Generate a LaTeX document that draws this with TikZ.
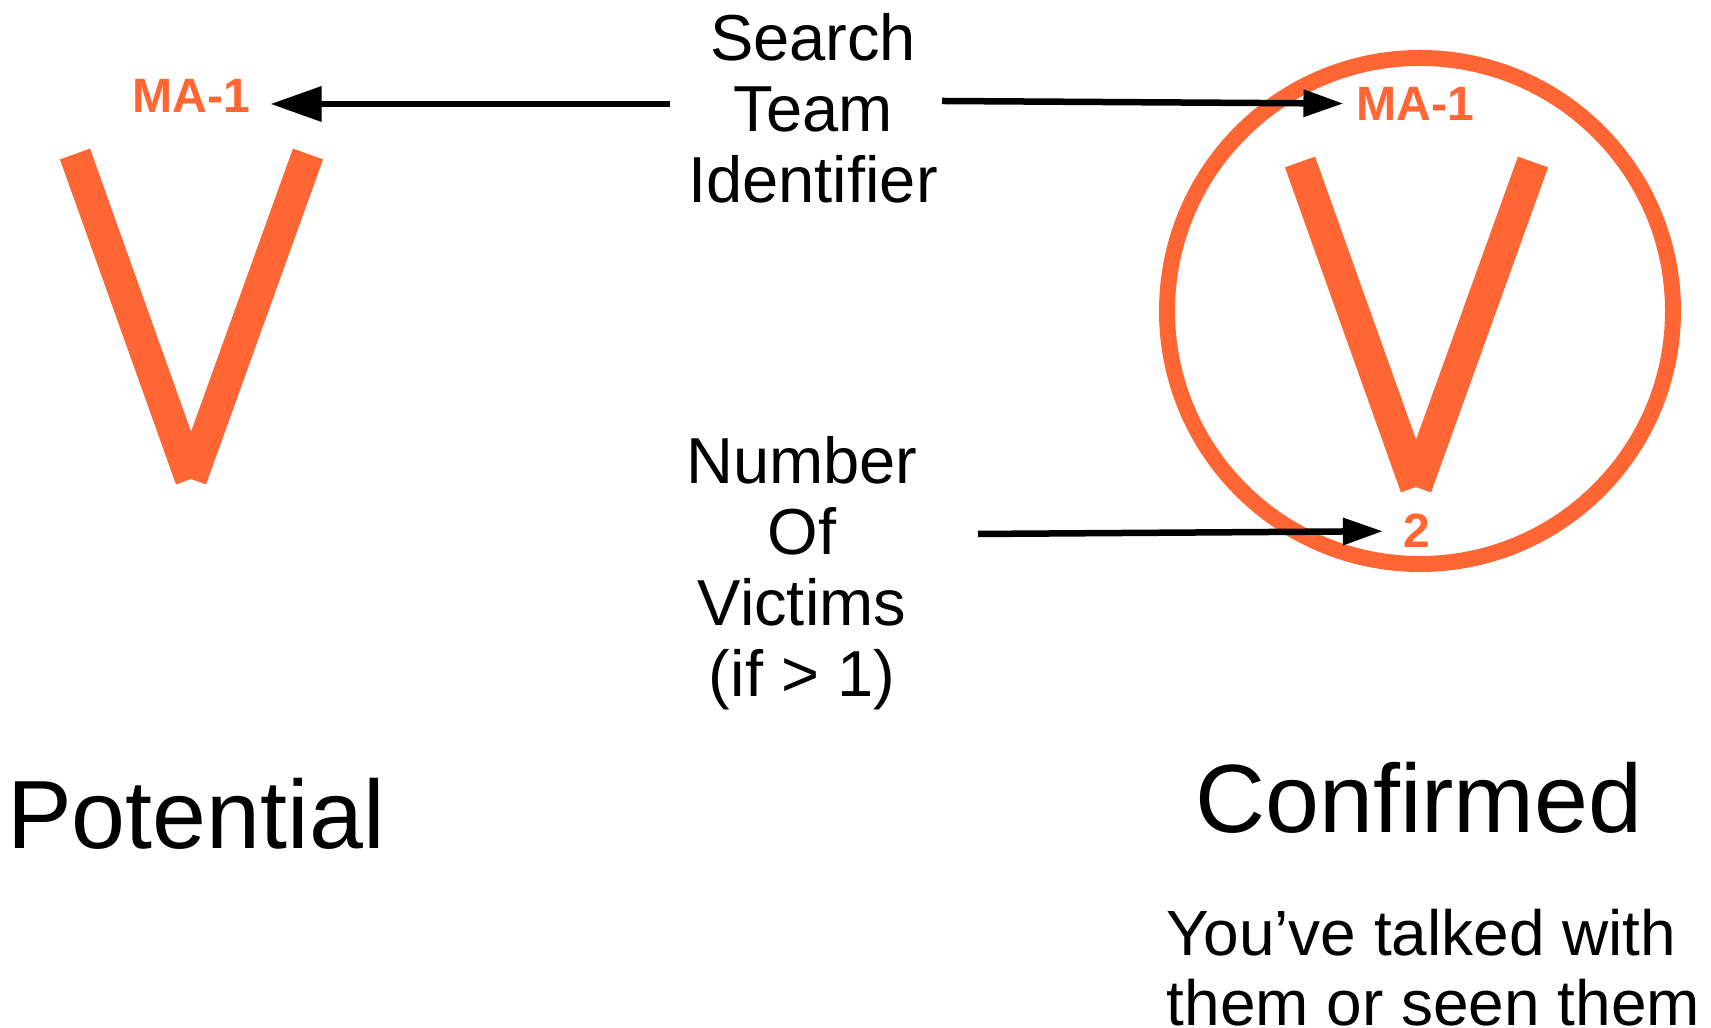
\documentclass[tikz,border=0pt]{standalone}
\usepackage{fontspec}
\setmainfont{Liberation Sans}
\usetikzlibrary{arrows.meta}
\definecolor{victim}{HTML}{FF6633}
\tikzset{
	vline/.style={line width=0.32cm, color=victim, line cap=butt},
	tag/.style={font=\fontsize{13.7pt}{16pt}\selectfont\bfseries, text=victim, inner xsep=0.2cm, inner ysep=0pt},
	caption/.style={font=\fontsize{18.5pt}{20.2pt}\selectfont, inner sep=0pt},
	title/.style={font=\fontsize{27.6pt}{32pt}\selectfont, inner sep=0pt},
	pointer/.style={line width=0.065cm, -{Triangle[length=0.40cm, width=0.26cm]}}
}
\def\victim(#1)(#2)(#3){\draw[vline] (#1) -- (#2); \draw[vline] (#3) -- (#2);}

\begin{document}
\begin{tikzpicture}
		%%%%% START %%%%%
		
		\useasboundingbox (0, 0) rectangle (17.11, 10.28);
		
		% potential
		\victim(0.75, 8.74)(1.91, 5.49)(3.08, 8.74);
		\node[tag] (maL) at (1.91, 9.32) {MA-1};
		\node[title, anchor=base] (potential) at (1.96, 1.79) {Potential};
		
		% confirmed
		\draw[line width=0.16cm, color=victim] (14.20, 7.17) circle (2.53);
		\victim(13.00, 8.66)(14.16, 5.41)(15.33, 8.66);
		\node[tag] (maR) at (14.15, 9.24) {MA-1};
		\node[tag] (count) at (14.17, 4.97) {2};
		\node[title, anchor=base] (confirmed) at (14.19, 1.95) {Confirmed};
		\node[caption, font=\fontsize{18.2pt}{20pt}\selectfont, anchor=north west, align=left] (seen) at (11.66, 1.20) {You’ve talked with\\them or seen them};
		
		% labels in the middle
		\node[caption, anchor=north, align=center] (search) at (8.13, 10.155) {Search\\Team\\Identifier};
		\node[caption, anchor=north, align=center] (number) at (8.02, 5.925) {Number\\Of\\Victims\\(if > 1)};
		
		\coordinate (fromL) at (6.70, 9.24);
		\coordinate (fromR) at (9.42, 9.27);
		\coordinate (fromN) at (9.78, 4.94);
		
		\draw[pointer, -{Triangle[length=0.51cm, width=0.34cm]}] (fromL) -- (fromL -| maL.east);
		\draw[pointer, shorten >=-0.08cm] (fromR) -- (maR);
		\draw[pointer] (fromN) -- (count);
		
		%%%%% END %%%%%
	\end{tikzpicture}
\end{document}
